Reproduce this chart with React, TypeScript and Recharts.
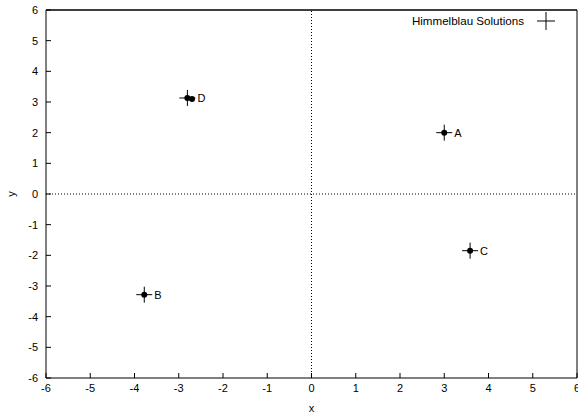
import React from "react";
import {
	ScatterChart,
	Scatter,
	XAxis,
	YAxis,
	ReferenceLine,
} from "recharts";

const solutionNames = ["A", "B", "C", "D"];
const solutionX = [3.0, -3.779, 3.584, -2.805];
const solutionY = [2.0, -3.283, -1.848, 3.131];

const foundX = [3.0, -3.779, 3.584, -2.805, -2.7];
const foundY = [2.0, -3.283, -1.848, 3.131, 3.1];

const ticks = [-6, -5, -4, -3, -2, -1, 0, 1, 2, 3, 4, 5, 6];

const solutions = solutionNames.map((name, i) => ({
	x: solutionX[i],
	y: solutionY[i],
	name,
}));
const found = foundX.map((x, i) => ({ x, y: foundY[i] }));

const FONT = "'Liberation Sans', Arial, sans-serif";

const PlusShape = (props: any) => {
	const { cx, cy, payload } = props;
	return (
		<g>
			<line x1={cx - 8} x2={cx + 8} y1={cy} y2={cy} stroke="#000" />
			<line x1={cx} x2={cx} y1={cy - 8} y2={cy + 8} stroke="#000" />
			<text
				x={cx + 10}
				y={cy + 4}
				fontSize={11}
				fontFamily={FONT}
				fill="#000"
			>
				{payload.name}
			</text>
		</g>
	);
};

const DotShape = (props: any) => {
	const { cx, cy } = props;
	return <circle cx={cx} cy={cy} r={3} fill="#000" />;
};

const LegendBox = () => (
	<svg width={160} height={22} style={{ display: "block" }}>
		<text
			x={124}
			y={15}
			textAnchor="end"
			fontSize={11.6}
			fontFamily={FONT}
			fill="#000"
		>
			Himmelblau Solutions
		</text>
		<line x1={137} x2={155} y1={11} y2={11} stroke="#000" />
		<line x1={146} x2={146} y1={2} y2={20} stroke="#000" />
	</svg>
);

const tickStyle = { fontSize: 11, fontFamily: FONT, fill: "#000" };

export default function App() {
	return (
		<div style={{ position: "absolute", left: 0, top: 0, width: 578, height: 416 }}>
			<ScatterChart
				width={578}
				height={416}
				margin={{ top: 0, right: 0, left: 10, bottom: 18 }}
			>
				<XAxis
					type="number"
					dataKey="x"
					domain={[-6, 6]}
					ticks={ticks}
					interval={0}
					height={20}
					tickSize={-5}
					tickMargin={11}
					tick={tickStyle}
					stroke="#000"
					label={(p: any) => (
						<text
							x={p.viewBox.x + p.viewBox.width / 2}
							y={412}
							textAnchor="middle"
							fontSize={11}
							fontFamily={FONT}
							fill="#000"
						>
							x
						</text>
					)}
				/>
				<XAxis
					xAxisId="top"
					orientation="top"
					type="number"
					dataKey="x"
					domain={[-6, 6]}
					ticks={ticks}
					interval={0}
					height={10}
					tickSize={-5}
					tick={false}
					stroke="#000"
				/>
				<YAxis
					type="number"
					dataKey="y"
					domain={[-6, 6]}
					ticks={ticks}
					interval={0}
					width={36}
					tickSize={-5}
					tickMargin={13}
					tick={tickStyle}
					stroke="#000"
					label={(p: any) => (
						<text
							x={15}
							y={p.viewBox.y + p.viewBox.height / 2}
							textAnchor="middle"
							transform={`rotate(-90 15 ${p.viewBox.y + p.viewBox.height / 2})`}
							fontSize={11}
							fontFamily={FONT}
							fill="#000"
						>
							y
						</text>
					)}
				/>
				<YAxis
					yAxisId="right"
					orientation="right"
					type="number"
					dataKey="y"
					domain={[-6, 6]}
					ticks={ticks}
					interval={0}
					width={1}
					tickSize={-5}
					tick={false}
					stroke="#000"
				/>
				<ReferenceLine y={6} stroke="#000" ifOverflow="visible" />
				<ReferenceLine x={0} stroke="#000" strokeDasharray="1 2" />
				<ReferenceLine y={0} stroke="#000" strokeDasharray="1 2" />
				<Scatter
					data={solutions}
					xAxisId="top"
					shape={<PlusShape />}
					isAnimationActive={false}
					legendType="none"
				/>
				<Scatter
					data={found}
					yAxisId="right"
					shape={<DotShape />}
					isAnimationActive={false}
					legendType="none"
				/>
			</ScatterChart>
			<div style={{ position: "absolute", top: 10, right: 18 }}>
				<LegendBox />
			</div>
		</div>
	);
}
